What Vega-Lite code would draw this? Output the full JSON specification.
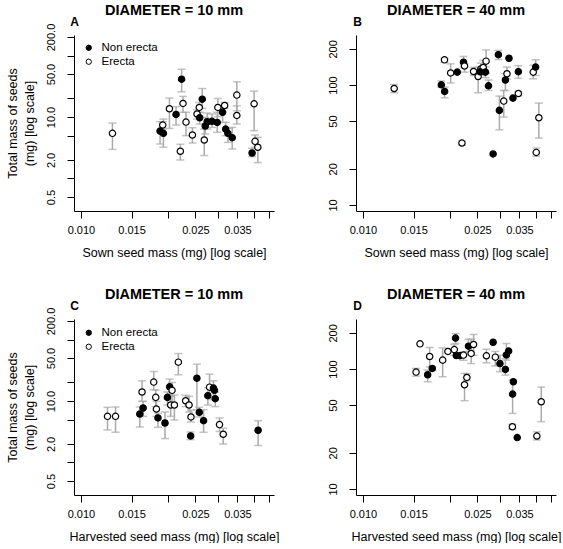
{
  "$schema": "https://vega.github.io/schema/vega-lite/v6.json",
  "padding": {"left": 6, "top": 2, "right": 0, "bottom": 0},
  "autosize": {"type": "pad"},
  "background": "white",
  "config": {
    "font": "Liberation Sans",
    "view": {"stroke": null},
    "axis": {"grid": false, "tickColor": "black", "domainColor": "black", "tickSize": 7, "domainWidth": 1, "tickWidth": 1, "labelColor": "black", "titleColor": "black", "labelFontSize": 11, "titleFontSize": 12.5, "titleFontWeight": "normal", "labelFlush": false, "labelOverlap": false},
    "title": {"fontSize": 14.5, "fontWeight": "bold", "anchor": "middle", "frame": "group", "offset": -3, "color": "black"}
  },
  "bounds": "flush",
  "columns": 2,
  "spacing": {"row": 108, "column": 82},
  "resolve": {"legend": {"fill": "independent"}},
  "data": {"values": [
    {"p":"A","x":0.01287,"y":5.42,"lo":2.98,"hi":7.97,"t":"Erecta"},
    {"p":"A","x":0.01884,"y":5.91,"lo":3.64,"hi":8.38,"t":"Non erecta"},
    {"p":"A","x":0.01935,"y":5.42,"lo":3.22,"hi":9.25,"t":"Non erecta"},
    {"p":"A","x":0.01925,"y":7.40,"lo":6.37,"hi":8.38,"t":"Erecta"},
    {"p":"A","x":0.02031,"y":13.6,"lo":6.53,"hi":20.3,"t":"Erecta"},
    {"p":"A","x":0.02141,"y":11.0,"lo":7.40,"hi":14.7,"t":"Non erecta"},
    {"p":"A","x":0.02239,"y":41.2,"lo":25.7,"hi":59.8,"t":"Non erecta"},
    {"p":"A","x":0.02264,"y":16.6,"lo":11.9,"hi":21.6,"t":"Erecta"},
    {"p":"A","x":0.02319,"y":8.27,"lo":4.97,"hi":11.9,"t":"Erecta"},
    {"p":"A","x":0.02216,"y":2.77,"lo":2.00,"hi":3.60,"t":"Erecta"},
    {"p":"A","x":0.02441,"y":5.09,"lo":3.78,"hi":6.70,"t":"Erecta"},
    {"p":"A","x":0.02533,"y":11.2,"lo":9.25,"hi":13.1,"t":"Erecta"},
    {"p":"A","x":0.02579,"y":14.3,"lo":11.9,"hi":17.2,"t":"Erecta"},
    {"p":"A","x":0.02587,"y":9.73,"lo":7.68,"hi":11.9,"t":"Non erecta"},
    {"p":"A","x":0.02641,"y":19.5,"lo":13.9,"hi":29.0,"t":"Non erecta"},
    {"p":"A","x":0.02684,"y":4.23,"lo":2.36,"hi":6.37,"t":"Erecta"},
    {"p":"A","x":0.02704,"y":7.13,"lo":5.29,"hi":9.85,"t":"Non erecta"},
    {"p":"A","x":0.02748,"y":8.38,"lo":6.37,"hi":11.6,"t":"Non erecta"},
    {"p":"A","x":0.02855,"y":8.5,"lo":6.78,"hi":11.2,"t":"Non erecta"},
    {"p":"A","x":0.02977,"y":8.17,"lo":5.63,"hi":11.9,"t":"Non erecta"},
    {"p":"A","x":0.02992,"y":14.3,"lo":10.1,"hi":20.0,"t":"Erecta"},
    {"p":"A","x":0.03108,"y":11.9,"lo":8.17,"hi":15.2,"t":"Non erecta"},
    {"p":"A","x":0.03159,"y":15.4,"lo":13.8,"hi":17.2,"t":"Erecta"},
    {"p":"A","x":0.03185,"y":6.37,"lo":4.97,"hi":8.17,"t":"Non erecta"},
    {"p":"A","x":0.03243,"y":5.42,"lo":3.87,"hi":6.53,"t":"Non erecta"},
    {"p":"A","x":0.03357,"y":4.61,"lo":3.02,"hi":6.78,"t":"Non erecta"},
    {"p":"A","x":0.03483,"y":22.7,"lo":12.6,"hi":37.3,"t":"Erecta"},
    {"p":"A","x":0.03483,"y":10.6,"lo":7.68,"hi":15.2,"t":"Erecta"},
    {"p":"A","x":0.03935,"y":2.60,"lo":2.27,"hi":3.10,"t":"Non erecta"},
    {"p":"A","x":0.04000,"y":16.4,"lo":5.99,"hi":26.3,"t":"Erecta"},
    {"p":"A","x":0.04031,"y":4.02,"lo":3.22,"hi":5.09,"t":"Erecta"},
    {"p":"A","x":0.04120,"y":3.22,"lo":1.81,"hi":4.67,"t":"Erecta"},

    {"p":"B","x":0.01284,"y":93.5,"lo":86.1,"hi":101,"t":"Erecta"},
    {"p":"B","x":0.01873,"y":100.3,"lo":96,"hi":108,"t":"Non erecta"},
    {"p":"B","x":0.01923,"y":88.3,"lo":78.2,"hi":96,"t":"Non erecta"},
    {"p":"B","x":0.01921,"y":162,"lo":154,"hi":167,"t":"Erecta"},
    {"p":"B","x":0.02018,"y":126,"lo":104,"hi":150,"t":"Erecta"},
    {"p":"B","x":0.02128,"y":128,"t":"Non erecta"},
    {"p":"B","x":0.02237,"y":155,"lo":140,"hi":173,"t":"Non erecta"},
    {"p":"B","x":0.02255,"y":144,"lo":128,"hi":150,"t":"Erecta"},
    {"p":"B","x":0.02209,"y":32.8,"lo":31.5,"hi":34.2,"t":"Erecta"},
    {"p":"B","x":0.02424,"y":129.5,"lo":120,"hi":140,"t":"Erecta"},
    {"p":"B","x":0.02515,"y":117.7,"lo":86.1,"hi":141,"t":"Erecta"},
    {"p":"B","x":0.02570,"y":136,"lo":120,"hi":152,"t":"Erecta"},
    {"p":"B","x":0.02618,"y":140,"lo":125,"hi":160,"t":"Erecta"},
    {"p":"B","x":0.02555,"y":128.7,"t":"Non erecta"},
    {"p":"B","x":0.02667,"y":128,"lo":115,"hi":142,"t":"Non erecta"},
    {"p":"B","x":0.02680,"y":158,"lo":125,"hi":196,"t":"Erecta"},
    {"p":"B","x":0.02732,"y":98.4,"lo":90,"hi":110,"t":"Non erecta"},
    {"p":"B","x":0.02957,"y":179,"lo":163,"hi":194,"t":"Non erecta"},
    {"p":"B","x":0.02835,"y":26.6,"t":"Non erecta"},
    {"p":"B","x":0.02981,"y":61.4,"lo":42.3,"hi":80.7,"t":"Non erecta"},
    {"p":"B","x":0.03087,"y":73.4,"lo":54.0,"hi":90.0,"t":"Erecta"},
    {"p":"B","x":0.03128,"y":110,"lo":90,"hi":124,"t":"Non erecta"},
    {"p":"B","x":0.03168,"y":124,"lo":112.5,"hi":141,"t":"Erecta"},
    {"p":"B","x":0.03219,"y":167,"t":"Non erecta"},
    {"p":"B","x":0.03323,"y":77.7,"t":"Non erecta"},
    {"p":"B","x":0.03470,"y":84.9,"lo":81.5,"hi":88,"t":"Erecta"},
    {"p":"B","x":0.03470,"y":129,"lo":113.5,"hi":145,"t":"Non erecta"},
    {"p":"B","x":0.03909,"y":128,"lo":112.5,"hi":146,"t":"Erecta"},
    {"p":"B","x":0.03984,"y":141,"lo":120,"hi":162,"t":"Non erecta"},
    {"p":"B","x":0.04089,"y":53.3,"lo":36.1,"hi":70.6,"t":"Erecta"},
    {"p":"B","x":0.04004,"y":27.4,"lo":25.4,"hi":29.8,"t":"Erecta"},

    {"p":"C","x":0.01237,"y":5.63,"lo":3.38,"hi":7.89,"t":"Erecta"},
    {"p":"C","x":0.01319,"y":5.63,"lo":3.10,"hi":8.0,"t":"Erecta"},
    {"p":"C","x":0.01602,"y":6.15,"lo":3.78,"hi":8.0,"t":"Non erecta"},
    {"p":"C","x":0.01645,"y":7.69,"lo":5.63,"hi":9.87,"t":"Non erecta"},
    {"p":"C","x":0.01631,"y":14.0,"lo":9.87,"hi":21.3,"t":"Erecta"},
    {"p":"C","x":0.01791,"y":20.3,"lo":15.2,"hi":30.2,"t":"Erecta"},
    {"p":"C","x":0.01820,"y":11.45,"lo":8.1,"hi":15.1,"t":"Erecta"},
    {"p":"C","x":0.01830,"y":7.40,"lo":5.63,"hi":9.87,"t":"Erecta"},
    {"p":"C","x":0.01853,"y":5.30,"lo":3.73,"hi":6.3,"t":"Non erecta"},
    {"p":"C","x":0.01960,"y":4.39,"lo":2.45,"hi":6.63,"t":"Non erecta"},
    {"p":"C","x":0.01998,"y":11.45,"lo":8.6,"hi":14.0,"t":"Non erecta"},
    {"p":"C","x":0.02034,"y":17.0,"lo":12.5,"hi":22.7,"t":"Non erecta"},
    {"p":"C","x":0.02074,"y":14.9,"lo":8.6,"hi":20.0,"t":"Erecta"},
    {"p":"C","x":0.02051,"y":8.60,"lo":5.63,"hi":11.9,"t":"Erecta"},
    {"p":"C","x":0.02113,"y":8.60,"lo":4.91,"hi":12.5,"t":"Erecta"},
    {"p":"C","x":0.02181,"y":42.8,"lo":26.7,"hi":59.1,"t":"Erecta"},
    {"p":"C","x":0.02312,"y":10.1,"lo":8.1,"hi":12.4,"t":"Erecta"},
    {"p":"C","x":0.02376,"y":8.60,"lo":6.6,"hi":11.9,"t":"Erecta"},
    {"p":"C","x":0.02413,"y":5.50,"lo":4.56,"hi":7.13,"t":"Erecta"},
    {"p":"C","x":0.02407,"y":2.70,"lo":2.35,"hi":3.14,"t":"Non erecta"},
    {"p":"C","x":0.02530,"y":23.5,"lo":7.22,"hi":39.7,"t":"Non erecta"},
    {"p":"C","x":0.02579,"y":6.54,"lo":5.5,"hi":7.9,"t":"Non erecta"},
    {"p":"C","x":0.02669,"y":4.79,"lo":3.10,"hi":7.2,"t":"Non erecta"},
    {"p":"C","x":0.02762,"y":12.2,"lo":8.6,"hi":16.3,"t":"Non erecta"},
    {"p":"C","x":0.02800,"y":16.8,"lo":11.0,"hi":27.3,"t":"Erecta"},
    {"p":"C","x":0.02889,"y":16.2,"lo":10.5,"hi":21.3,"t":"Non erecta"},
    {"p":"C","x":0.02912,"y":14.9,"t":"Non erecta"},
    {"p":"C","x":0.02930,"y":10.9,"lo":8.1,"hi":14.0,"t":"Non erecta"},
    {"p":"C","x":0.03032,"y":4.13,"lo":3.2,"hi":5.30,"t":"Erecta"},
    {"p":"C","x":0.03124,"y":2.88,"lo":2.0,"hi":3.60,"t":"Erecta"},
    {"p":"C","x":0.04130,"y":3.34,"lo":1.89,"hi":4.79,"t":"Non erecta"},

    {"p":"D","x":0.01530,"y":94.2,"lo":87.2,"hi":101,"t":"Erecta"},
    {"p":"D","x":0.01579,"y":162,"t":"Erecta"},
    {"p":"D","x":0.01679,"y":89.5,"lo":78.3,"hi":97.8,"t":"Non erecta"},
    {"p":"D","x":0.01706,"y":127,"lo":104,"hi":151,"t":"Erecta"},
    {"p":"D","x":0.01742,"y":101,"lo":97,"hi":104,"t":"Non erecta"},
    {"p":"D","x":0.01893,"y":118.5,"lo":86.1,"hi":150,"t":"Erecta"},
    {"p":"D","x":0.01974,"y":140,"t":"Erecta"},
    {"p":"D","x":0.02078,"y":145,"lo":130,"hi":160,"t":"Erecta"},
    {"p":"D","x":0.02099,"y":181,"lo":163,"hi":197,"t":"Non erecta"},
    {"p":"D","x":0.02111,"y":129.5,"t":"Non erecta"},
    {"p":"D","x":0.02173,"y":129,"t":"Non erecta"},
    {"p":"D","x":0.02237,"y":130.5,"lo":118,"hi":139,"t":"Erecta"},
    {"p":"D","x":0.02328,"y":155,"lo":140,"hi":177,"t":"Non erecta"},
    {"p":"D","x":0.02378,"y":134.7,"lo":111,"hi":177,"t":"Erecta"},
    {"p":"D","x":0.02424,"y":160,"lo":130,"hi":194,"t":"Erecta"},
    {"p":"D","x":0.02255,"y":73.9,"lo":54.4,"hi":91.7,"t":"Erecta"},
    {"p":"D","x":0.02298,"y":85,"lo":80,"hi":91.7,"t":"Erecta"},
    {"p":"D","x":0.02687,"y":128.8,"lo":112.6,"hi":146,"t":"Erecta"},
    {"p":"D","x":0.02835,"y":167,"t":"Non erecta"},
    {"p":"D","x":0.02886,"y":125.5,"lo":106,"hi":140,"t":"Erecta"},
    {"p":"D","x":0.02995,"y":111,"lo":95,"hi":130,"t":"Non erecta"},
    {"p":"D","x":0.03128,"y":99.1,"lo":88.9,"hi":122,"t":"Non erecta"},
    {"p":"D","x":0.03153,"y":131,"lo":118.5,"hi":163,"t":"Non erecta"},
    {"p":"D","x":0.03210,"y":141,"t":"Non erecta"},
    {"p":"D","x":0.03334,"y":78.3,"t":"Non erecta"},
    {"p":"D","x":0.03314,"y":61.8,"lo":42.6,"hi":80.9,"t":"Non erecta"},
    {"p":"D","x":0.03308,"y":33.0,"lo":31.5,"hi":34.5,"t":"Erecta"},
    {"p":"D","x":0.03439,"y":26.8,"t":"Non erecta"},
    {"p":"D","x":0.04024,"y":27.6,"lo":25.6,"hi":29.9,"t":"Erecta"},
    {"p":"D","x":0.04167,"y":53.3,"lo":36.4,"hi":70.7,"t":"Erecta"}
  ]},
  "concat": [
    {
      "title": {"text": "DIAMETER = 10 mm"},
      "width": 200, "height": 176,
      "transform": [{"filter": "datum.p == 'A'"}],
      "resolve": {"axis": {"x": "independent", "y": "independent"}},
      "layer": [
        {"transform": [{"filter": "isValid(datum.lo)"}],
         "mark": {"type": "rule", "color": "#aaaaaa", "strokeWidth": 1.5},
         "encoding": {
           "x": {"field": "x", "type": "quantitative", "scale": {"type": "log", "domain": [0.00946, 0.0469], "nice": false},
                 "axis": {"orient": "bottom", "title": "Sown seed mass (mg) [log scale]", "values": [0.01, 0.015, 0.02, 0.025, 0.03, 0.035, 0.04, 0.045], "labelExpr": "indexof([10,15,25,35], round(datum.value*1000)) >= 0 ? format(datum.value, '.3f') : ''", "labelPadding": 6, "titlePadding": 11}},
           "y": {"field": "lo", "type": "quantitative", "scale": {"type": "log", "domain": [0.296, 215.5], "nice": false},
                 "axis": {"orient": "left", "title": ["Total mass of seeds", "(mg) [log scale]"], "values": [0.5, 1, 2, 5, 10, 20, 50, 100, 200], "labelExpr": "indexof([5,20,100,500,2000], round(datum.value*10)) >= 0 ? format(datum.value, '.1f') : ''", "labelAngle": -90, "labelAlign": "center", "labelBaseline": "alphabetic", "labelPadding": 13, "titlePadding": 9, "titleLineHeight": 17}},
           "y2": {"field": "hi"}
         }},
        {"transform": [{"filter": "isValid(datum.lo)"}],
         "mark": {"type": "tick", "orient": "horizontal", "size": 8, "thickness": 1.5, "color": "#aaaaaa"},
         "encoding": {
           "x": {"field": "x", "type": "quantitative", "axis": null},
           "y": {"field": "lo", "type": "quantitative", "axis": null}
         }},
        {"transform": [{"filter": "isValid(datum.lo)"}],
         "mark": {"type": "tick", "orient": "horizontal", "size": 8, "thickness": 1.5, "color": "#aaaaaa"},
         "encoding": {
           "x": {"field": "x", "type": "quantitative", "axis": null},
           "y": {"field": "hi", "type": "quantitative", "axis": null}
         }},
        {"mark": {"type": "circle", "size": 40, "stroke": "black", "strokeWidth": 1.2, "opacity": 1},
         "encoding": {
           "x": {"field": "x", "type": "quantitative", "axis": {"orient": "top", "title": "A", "labels": false, "ticks": false, "domain": false, "titleFontWeight": "bold", "titleFontSize": 12, "titleX": 0, "titleY": -10, "titleAlign": "center", "titleBaseline": "alphabetic", "titleAngle": 0}},
           "y": {"field": "y", "type": "quantitative", "axis": null},
           "fill": {"field": "t", "type": "nominal", "scale": {"domain": ["Non erecta", "Erecta"], "range": ["black", "white"]},
                    "legend": {"orient": "none", "legendX": 9, "legendY": 7, "title": null, "symbolType": "circle", "symbolSize": 28, "symbolStrokeColor": "black", "symbolStrokeWidth": 1, "labelFontSize": 11.5, "labelOffset": 7, "rowPadding": 1, "padding": 0}}
         }}
      ]
    },
    {
      "title": {"text": "DIAMETER = 40 mm"},
      "width": 200, "height": 176,
      "transform": [{"filter": "datum.p == 'B'"}],
      "resolve": {"axis": {"x": "independent", "y": "independent"}},
      "layer": [
        {"transform": [{"filter": "isValid(datum.lo)"}],
         "mark": {"type": "rule", "color": "#aaaaaa", "strokeWidth": 1.5},
         "encoding": {
           "x": {"field": "x", "type": "quantitative", "scale": {"type": "log", "domain": [0.00946, 0.0469], "nice": false},
                 "axis": {"orient": "bottom", "title": "Sown seed mass (mg) [log scale]", "values": [0.01, 0.015, 0.02, 0.025, 0.03, 0.035, 0.04, 0.045], "labelExpr": "indexof([10,15,25,35], round(datum.value*1000)) >= 0 ? format(datum.value, '.3f') : ''", "labelPadding": 6, "titlePadding": 11}},
           "y": {"field": "lo", "type": "quantitative", "scale": {"type": "log", "domain": [8.9, 261], "nice": false},
                 "axis": {"orient": "left", "title": null, "values": [10, 20, 50, 100, 200], "format": "d", "labelAngle": -90, "labelAlign": "center", "labelBaseline": "alphabetic", "labelPadding": 13}},
           "y2": {"field": "hi"}
         }},
        {"transform": [{"filter": "isValid(datum.lo)"}],
         "mark": {"type": "tick", "orient": "horizontal", "size": 8, "thickness": 1.5, "color": "#aaaaaa"},
         "encoding": {
           "x": {"field": "x", "type": "quantitative", "axis": null},
           "y": {"field": "lo", "type": "quantitative", "axis": null}
         }},
        {"transform": [{"filter": "isValid(datum.lo)"}],
         "mark": {"type": "tick", "orient": "horizontal", "size": 8, "thickness": 1.5, "color": "#aaaaaa"},
         "encoding": {
           "x": {"field": "x", "type": "quantitative", "axis": null},
           "y": {"field": "hi", "type": "quantitative", "axis": null}
         }},
        {"mark": {"type": "circle", "size": 40, "stroke": "black", "strokeWidth": 1.2, "opacity": 1},
         "encoding": {
           "x": {"field": "x", "type": "quantitative", "axis": {"orient": "top", "title": "B", "labels": false, "ticks": false, "domain": false, "titleFontWeight": "bold", "titleFontSize": 12, "titleX": 1, "titleY": -10, "titleAlign": "center", "titleBaseline": "alphabetic", "titleAngle": 0}},
           "y": {"field": "y", "type": "quantitative", "axis": null},
           "fill": {"field": "t", "type": "nominal", "scale": {"domain": ["Non erecta", "Erecta"], "range": ["black", "white"]}, "legend": null}
         }}
      ]
    },
    {
      "title": {"text": "DIAMETER = 10 mm"},
      "width": 200, "height": 176,
      "transform": [{"filter": "datum.p == 'C'"}],
      "resolve": {"axis": {"x": "independent", "y": "independent"}},
      "layer": [
        {"transform": [{"filter": "isValid(datum.lo)"}],
         "mark": {"type": "rule", "color": "#aaaaaa", "strokeWidth": 1.5},
         "encoding": {
           "x": {"field": "x", "type": "quantitative", "scale": {"type": "log", "domain": [0.00946, 0.0469], "nice": false},
                 "axis": {"orient": "bottom", "title": "Harvested seed mass (mg) [log scale]", "values": [0.01, 0.015, 0.02, 0.025, 0.03, 0.035, 0.04, 0.045], "labelExpr": "indexof([10,15,25,35], round(datum.value*1000)) >= 0 ? format(datum.value, '.3f') : ''", "labelPadding": 6, "titlePadding": 11}},
           "y": {"field": "lo", "type": "quantitative", "scale": {"type": "log", "domain": [0.296, 215.5], "nice": false},
                 "axis": {"orient": "left", "title": ["Total mass of seeds", "(mg) [log scale]"], "values": [0.5, 1, 2, 5, 10, 20, 50, 100, 200], "labelExpr": "indexof([5,20,100,500,2000], round(datum.value*10)) >= 0 ? format(datum.value, '.1f') : ''", "labelAngle": -90, "labelAlign": "center", "labelBaseline": "alphabetic", "labelPadding": 13, "titlePadding": 9, "titleLineHeight": 17}},
           "y2": {"field": "hi"}
         }},
        {"transform": [{"filter": "isValid(datum.lo)"}],
         "mark": {"type": "tick", "orient": "horizontal", "size": 8, "thickness": 1.5, "color": "#aaaaaa"},
         "encoding": {
           "x": {"field": "x", "type": "quantitative", "axis": null},
           "y": {"field": "lo", "type": "quantitative", "axis": null}
         }},
        {"transform": [{"filter": "isValid(datum.lo)"}],
         "mark": {"type": "tick", "orient": "horizontal", "size": 8, "thickness": 1.5, "color": "#aaaaaa"},
         "encoding": {
           "x": {"field": "x", "type": "quantitative", "axis": null},
           "y": {"field": "hi", "type": "quantitative", "axis": null}
         }},
        {"mark": {"type": "circle", "size": 40, "stroke": "black", "strokeWidth": 1.2, "opacity": 1},
         "encoding": {
           "x": {"field": "x", "type": "quantitative", "axis": {"orient": "top", "title": "C", "labels": false, "ticks": false, "domain": false, "titleFontWeight": "bold", "titleFontSize": 12, "titleX": 0, "titleY": -10, "titleAlign": "center", "titleBaseline": "alphabetic", "titleAngle": 0}},
           "y": {"field": "y", "type": "quantitative", "axis": null},
           "fill": {"field": "t", "type": "nominal", "scale": {"domain": ["Non erecta", "Erecta"], "range": ["black", "white"]},
                    "legend": {"orient": "none", "legendX": 9, "legendY": 8, "title": null, "symbolType": "circle", "symbolSize": 28, "symbolStrokeColor": "black", "symbolStrokeWidth": 1, "labelFontSize": 11.5, "labelOffset": 7, "rowPadding": 1, "padding": 0}}
         }}
      ]
    },
    {
      "title": {"text": "DIAMETER = 40 mm"},
      "width": 200, "height": 176,
      "transform": [{"filter": "datum.p == 'D'"}],
      "resolve": {"axis": {"x": "independent", "y": "independent"}},
      "layer": [
        {"transform": [{"filter": "isValid(datum.lo)"}],
         "mark": {"type": "rule", "color": "#aaaaaa", "strokeWidth": 1.5},
         "encoding": {
           "x": {"field": "x", "type": "quantitative", "scale": {"type": "log", "domain": [0.00946, 0.0469], "nice": false},
                 "axis": {"orient": "bottom", "title": "Harvested seed mass (mg) [log scale]", "values": [0.01, 0.015, 0.02, 0.025, 0.03, 0.035, 0.04, 0.045], "labelExpr": "indexof([10,15,25,35], round(datum.value*1000)) >= 0 ? format(datum.value, '.3f') : ''", "labelPadding": 6, "titlePadding": 11}},
           "y": {"field": "lo", "type": "quantitative", "scale": {"type": "log", "domain": [8.9, 261], "nice": false},
                 "axis": {"orient": "left", "title": null, "values": [10, 20, 50, 100, 200], "format": "d", "labelAngle": -90, "labelAlign": "center", "labelBaseline": "alphabetic", "labelPadding": 13}},
           "y2": {"field": "hi"}
         }},
        {"transform": [{"filter": "isValid(datum.lo)"}],
         "mark": {"type": "tick", "orient": "horizontal", "size": 8, "thickness": 1.5, "color": "#aaaaaa"},
         "encoding": {
           "x": {"field": "x", "type": "quantitative", "axis": null},
           "y": {"field": "lo", "type": "quantitative", "axis": null}
         }},
        {"transform": [{"filter": "isValid(datum.lo)"}],
         "mark": {"type": "tick", "orient": "horizontal", "size": 8, "thickness": 1.5, "color": "#aaaaaa"},
         "encoding": {
           "x": {"field": "x", "type": "quantitative", "axis": null},
           "y": {"field": "hi", "type": "quantitative", "axis": null}
         }},
        {"mark": {"type": "circle", "size": 40, "stroke": "black", "strokeWidth": 1.2, "opacity": 1},
         "encoding": {
           "x": {"field": "x", "type": "quantitative", "axis": {"orient": "top", "title": "D", "labels": false, "ticks": false, "domain": false, "titleFontWeight": "bold", "titleFontSize": 12, "titleX": 1, "titleY": -10, "titleAlign": "center", "titleBaseline": "alphabetic", "titleAngle": 0}},
           "y": {"field": "y", "type": "quantitative", "axis": null},
           "fill": {"field": "t", "type": "nominal", "scale": {"domain": ["Non erecta", "Erecta"], "range": ["black", "white"]}, "legend": null}
         }}
      ]
    }
  ]
}
